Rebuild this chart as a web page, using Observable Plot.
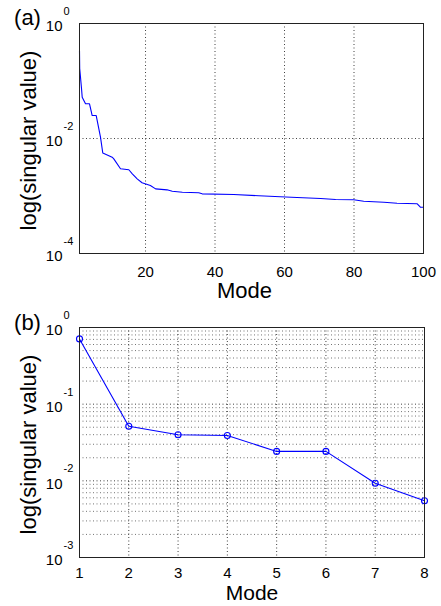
<!DOCTYPE html>
<html>
<head>
<meta charset="utf-8">
<script src="https://cdn.jsdelivr.net/npm/d3@7"></script>
<script src="https://cdn.jsdelivr.net/npm/@observablehq/plot@0.6"></script>
<style>
  body { margin: 0; background: #fff; }
  svg { display: block; }
</style>
</head>
<body>
<div id="chart"></div>
<script>
// Panel (a): singular values vs mode
const modeA = [1, 1.06, 1.58, 1.78, 2.73, 3.88, 4.65, 5.81, 7.04, 7.7, 10.4, 10.87, 12.8, 15.2, 16.2, 17.6, 19.0, 21.4, 22.9, 26.2, 27.7, 30.6, 35.3, 36.3, 45.4, 52.6, 58.8, 63.6, 70.4, 74.7, 79.9, 82.8, 88.6, 92.4, 98.2, 99.1, 100];
const svA = [0.339, 0.165, 0.0741, 0.0523, 0.0401, 0.0401, 0.0251, 0.0251, 0.01054, 0.0056, 0.00473, 0.00443, 0.00297, 0.00286, 0.00243, 0.00199, 0.00170, 0.00152, 0.00133, 0.00128, 0.00121, 0.00116, 0.00114, 0.00109, 0.00106, 0.00101, 0.000968, 0.000942, 0.000905, 0.000869, 0.000859, 0.000812, 0.000780, 0.000750, 0.000732, 0.000638, 0.000638];
const xTicksA = [20, 40, 60, 80, 100];
const yTicksA = [1, 1e-2, 1e-4];
const yExpA = ["0", "-2", "-4"];

// Panel (b): first 8 modes
const modeB = [1, 2, 3, 4, 5, 6, 7, 8];
const svB = [0.71, 0.0516, 0.0400, 0.0390, 0.0242, 0.0242, 0.0093, 0.0055];
const xTicksB = [1, 2, 3, 4, 5, 6, 7, 8];
const yTicksB = [1, 1e-1, 1e-2, 1e-3];
const yExpB = ["0", "-1", "-2", "-3"];

const FONT = "'Liberation Sans', Arial, Helvetica, sans-serif";
const gridStyle = {stroke: "#000", strokeDasharray: "1,2.5", strokeOpacity: 0.75, strokeWidth: 1};
const minorStyle = {stroke: "#000", strokeDasharray: "1,2.5", strokeOpacity: 0.55, strokeWidth: 1};

function yTickMarks(ticks, exps) {
  return [
    Plot.text(ticks, {y: d => d, text: () => "10", frameAnchor: "left", textAnchor: "end", dx: -17, dy: 3, fontSize: 15, fill: "#000"}),
    Plot.text(ticks, {y: d => d, text: (d, i) => exps[i], frameAnchor: "left", textAnchor: "start", dx: -16, dy: -12, fontSize: 11, fill: "#000"})
  ];
}

const plotA = Plot.plot({
  width: 441, height: 303,
  marginTop: 23, marginBottom: 50, marginLeft: 79, marginRight: 18,
  style: {fontFamily: FONT, background: "#fff"},
  x: {domain: [1, 100], axis: null},
  y: {type: "log", domain: [1e-4, 1], axis: null},
  marks: [
    Plot.ruleX([20, 40, 60, 80], gridStyle),
    Plot.ruleY([1e-2], gridStyle),
    Plot.line(modeA.map((m, i) => ({m, v: svA[i]})), {x: "m", y: "v", stroke: "#0000ff", strokeWidth: 1.1}),
    Plot.frame({stroke: "#222", strokeWidth: 1}),
    Plot.text(xTicksA, {x: d => d, text: d => String(d), frameAnchor: "bottom", dy: 19, lineAnchor: "middle", fontSize: 15, fill: "#000"}),
    ...yTickMarks(yTicksA, yExpA),
    Plot.text(["Mode"], {frameAnchor: "bottom", textAnchor: "middle", dx: -7, dy: 37, lineAnchor: "middle", fontSize: 22, fill: "#000"}),
    Plot.text(["log(singular value)"], {frameAnchor: "left", textAnchor: "middle", dx: -51, dy: 2, rotate: -90, lineAnchor: "middle", fontSize: 22, fill: "#000"}),
    Plot.text(["(a)"], {frameAnchor: "top-left", textAnchor: "middle", dx: -52, dy: -6, lineAnchor: "middle", fontSize: 22, fill: "#000"})
  ]
});

const minorB = [1e-3, 1e-2, 1e-1].flatMap(p => [2, 3, 4, 5, 6, 7, 8, 9].map(k => k * p));

const plotB = Plot.plot({
  width: 441, height: 303,
  marginTop: 24, marginBottom: 49, marginLeft: 79, marginRight: 17,
  style: {fontFamily: FONT, background: "#fff"},
  x: {domain: [1, 8], axis: null},
  y: {type: "log", domain: [1e-3, 1], axis: null},
  marks: [
    Plot.ruleY(minorB, minorStyle),
    Plot.ruleY([1e-1, 1e-2], gridStyle),
    Plot.ruleX([2, 3, 4, 5, 6, 7], gridStyle),
    Plot.line(modeB.map((m, i) => ({m, v: svB[i]})), {x: "m", y: "v", stroke: "#0000ff", strokeWidth: 1.1}),
    Plot.dot(modeB.map((m, i) => ({m, v: svB[i]})), {x: "m", y: "v", r: 3, stroke: "#0000ff", fill: "none", strokeWidth: 1.1}),
    Plot.frame({stroke: "#222", strokeWidth: 1}),
    Plot.text(xTicksB, {x: d => d, text: d => String(d), frameAnchor: "bottom", dy: 16, lineAnchor: "middle", fontSize: 15, fill: "#000"}),
    ...yTickMarks(yTicksB, yExpB),
    Plot.text(["Mode"], {frameAnchor: "bottom", textAnchor: "middle", dy: 36, lineAnchor: "middle", fontSize: 21, fill: "#000"}),
    Plot.text(["log(singular value)"], {frameAnchor: "left", textAnchor: "middle", dx: -51, dy: 2, rotate: -90, lineAnchor: "middle", fontSize: 22, fill: "#000"}),
    Plot.text(["(b)"], {frameAnchor: "top-left", textAnchor: "middle", dx: -52, dy: -5, lineAnchor: "middle", fontSize: 22, fill: "#000"})
  ]
});

const root = document.getElementById("chart");
root.appendChild(plotA);
root.appendChild(plotB);
</script>
</body>
</html>
